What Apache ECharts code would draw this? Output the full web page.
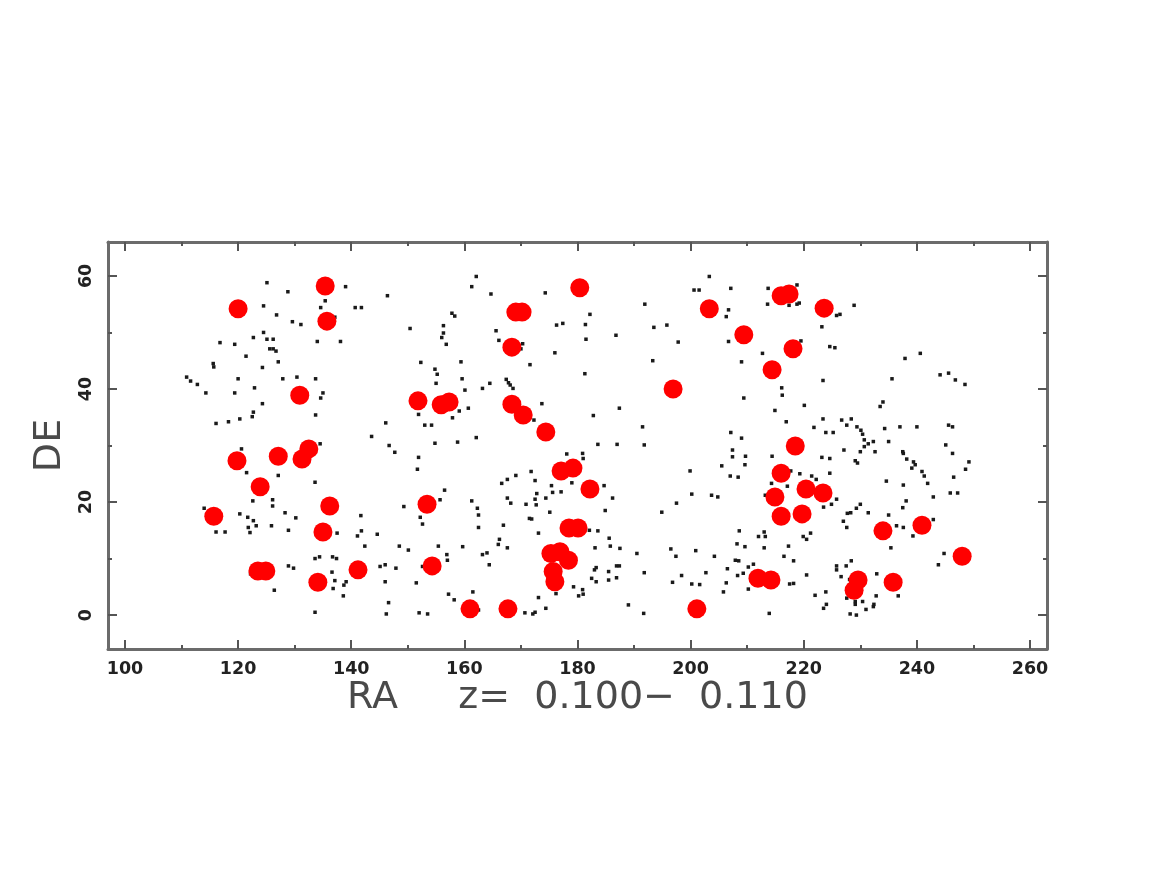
<!DOCTYPE html>
<html><head><meta charset="utf-8">
<script src="https://cdn.jsdelivr.net/npm/echarts@6/dist/echarts.min.js"></script>
<style>html,body{margin:0;padding:0;background:#fff}#c{width:1155px;height:892px}</style>
</head><body><div id="c"></div>
<script>
const xMajorTicks = [100,120,140,160,180,200,220,240,260];
const xMinorTicks = [110,130,150,170,190,210,230,250];
const yMajorTicks = [0,20,40,60];
const yMinorTicks = [10,30,50];
const xTitle = 'RA     z=  0.100\u2212  0.110';
const yTitle = 'DE';

// clusters (red) : [RA, DE]
const clusters = [[120.0,54.2],[135.4,58.2],[135.7,52.0],[130.9,38.9],[119.8,27.3],[127.1,28.1],[131.3,27.6],[132.5,29.4],[123.9,22.7],[115.7,17.5],[136.2,19.3],[135.0,14.7],[123.5,7.8],[124.9,7.8],[134.1,5.8],[141.2,8.0],[151.8,37.9],[153.4,19.6],[154.3,8.7],[155.9,37.2],[157.3,37.7],[161.0,1.1],[167.7,1.1],[169.1,53.6],[170.2,53.6],[168.4,47.4],[168.4,37.3],[170.4,35.4],[174.4,32.4],[180.4,57.9],[177.1,25.5],[179.2,26.0],[182.2,22.3],[178.5,15.4],[180.1,15.4],[175.3,10.9],[176.9,11.2],[178.4,9.7],[175.7,7.7],[176.0,5.9],[196.9,40.0],[201.1,1.1],[203.3,54.2],[209.4,49.6],[214.4,43.4],[216.0,56.5],[217.4,56.8],[218.1,47.1],[223.6,54.3],[218.5,29.9],[216.0,25.1],[214.9,20.9],[220.4,22.3],[223.4,21.6],[216.0,17.5],[219.7,17.9],[211.9,6.5],[214.2,6.2],[228.9,4.4],[229.6,6.2],[235.8,5.8],[234.0,14.9],[240.9,15.9],[248.0,10.4]];

// galaxies (black) : [RA, DE]
const galaxiesNW = [[125.1,58.8],[128.8,57.2],[139.0,58.1],[146.4,56.5],[124.5,54.7],[135.4,55.6],[134.6,54.4],[140.7,54.4],[141.8,54.4],[126.8,53.1],[129.6,51.9],[131.1,51.4],[137.1,52.7],[150.4,50.7],[122.7,49.1],[116.8,48.2],[119.4,47.9],[124.5,50.0],[125.1,48.8],[126.2,48.8],[134.0,48.4],[138.1,48.4],[125.6,47.1],[126.2,47.1],[126.7,46.7],[121.4,45.8],[115.6,44.5],[115.7,43.9],[124.3,43.8],[127.1,44.8],[152.3,44.7],[110.9,42.1],[111.6,41.4],[112.8,40.8],[114.3,39.3],[119.4,39.3],[120.0,41.8],[122.9,40.2],[127.9,41.8],[130.4,42.1],[133.7,41.8],[135.0,39.3],[134.6,38.4],[124.3,37.4],[122.7,35.9],[122.5,35.1],[120.3,34.7],[118.3,34.2],[116.1,33.9],[133.7,35.4],[146.1,34.0],[151.9,35.5],[153.0,33.6],[143.6,31.6],[146.7,30.0]];
const galaxiesSW = [[120.6,29.4],[134.5,30.3],[147.7,28.8],[151.9,27.9],[151.7,25.8],[121.5,25.2],[127.1,24.7],[133.6,23.5],[122.6,20.2],[126.1,20.4],[126.1,19.3],[114.0,18.9],[120.3,17.9],[121.7,17.3],[122.7,16.7],[123.2,15.8],[121.8,15.5],[122.1,14.6],[125.9,15.8],[128.3,18.1],[128.9,15.0],[130.2,17.2],[116.1,14.7],[117.7,14.7],[137.5,14.5],[141.7,17.6],[141.8,14.9],[141.1,14.0],[142.4,12.2],[144.6,14.3],[148.5,12.2],[150.1,11.5],[149.3,19.2],[152.2,17.3],[152.6,16.1],[133.6,10.0],[134.4,10.3],[136.7,10.3],[137.4,10.0],[128.9,8.7],[129.8,8.3],[122.2,7.3],[126.4,4.4],[136.6,7.6],[137.1,6.1],[136.8,4.7],[139.1,5.9],[138.7,5.3],[138.6,3.4],[145.1,8.6],[146.0,8.9],[147.9,8.3],[146.0,5.9],[151.5,5.7],[146.6,2.2],[133.6,0.5],[146.2,0.2],[152.0,0.4],[153.5,0.2],[152.6,8.6]];
const galaxiesCN = [[162.1,59.9],[161.3,58.1],[164.7,56.8],[174.3,57.0],[157.8,53.4],[158.3,52.9],[156.3,51.2],[156.3,49.9],[156.0,49.1],[156.8,47.9],[165.6,50.3],[166.1,48.6],[170.3,48.0],[170.0,47.1],[176.3,51.3],[177.4,51.6],[181.4,51.4],[182.2,53.2],[181.5,48.8],[176.0,46.4],[171.6,44.3],[181.3,42.7],[186.8,49.5],[191.9,55.0],[193.5,50.9],[195.8,51.3],[197.8,48.3],[193.3,45.0],[203.3,59.9],[200.6,57.5],[201.5,57.5],[207.1,57.8],[206.7,54.0],[206.3,52.8],[206.7,48.4],[209.0,44.8],[159.4,44.8],[154.8,43.5],[155.2,42.6],[155.0,41.0],[159.6,41.8],[160.1,39.8],[163.2,40.1],[164.5,41.0],[167.4,41.7],[167.8,41.1],[168.1,40.7],[168.6,40.1],[159.1,36.1],[157.9,34.9],[160.7,36.6],[173.7,37.4],[172.3,34.5],[154.2,33.6],[182.8,35.3],[187.4,36.6],[191.5,33.3],[207.1,32.3],[209.0,31.3],[209.4,38.4],[162.1,31.4],[158.8,30.6],[154.8,30.4],[183.6,30.2],[187.0,30.2],[191.8,30.1]];
const galaxiesCS = [[178.1,28.5],[180.9,28.6],[181.0,27.7],[169.1,24.7],[171.8,25.4],[172.5,23.8],[167.6,24.0],[166.6,23.3],[179.0,23.4],[175.4,22.9],[175.6,21.7],[177.1,21.8],[184.7,22.9],[156.5,22.1],[155.7,20.4],[161.3,20.2],[162.3,18.9],[162.5,17.7],[162.5,15.5],[167.6,20.7],[170.9,19.6],[172.5,20.5],[172.7,19.5],[172.8,21.5],[168.2,19.8],[174.4,20.7],[175.1,18.2],[171.5,17.1],[171.9,17.0],[166.9,15.9],[173.1,14.5],[184.9,18.5],[186.2,20.7],[182.1,15.0],[183.6,14.9],[166.2,13.4],[166.0,12.5],[167.6,11.9],[159.7,12.1],[155.4,12.2],[156.9,10.7],[157.0,9.7],[163.2,10.7],[164.0,11.0],[164.4,8.9],[183.1,11.9],[185.6,13.6],[185.8,12.2],[187.5,11.8],[190.5,10.9],[186.9,8.7],[187.4,8.7],[183.0,8.0],[183.3,8.4],[185.5,7.7],[186.9,6.6],[182.5,6.5],[183.3,5.9],[185.5,6.2],[176.2,3.8],[179.3,5.0],[180.9,4.5],[181.0,3.7],[180.2,3.4],[174.4,1.2],[173.1,3.1],[191.8,7.5],[189.0,1.8],[191.7,0.3],[157.2,3.7],[158.2,2.7],[161.5,4.1],[162.5,0.9],[170.7,0.4],[172.1,0.2],[172.5,0.5],[194.9,18.2],[197.5,19.8],[199.9,25.5],[200.2,21.4],[203.7,21.2],[204.8,20.9],[205.5,26.4],[207.4,29.2],[207.4,28.0],[209.7,28.1],[209.6,26.6],[207.0,24.6],[208.4,24.4],[208.6,14.9],[208.2,12.6],[209.6,12.1],[210.2,8.5],[207.9,9.7],[208.5,9.6],[206.5,8.2],[209.3,7.4],[208.3,7.0],[210.2,4.6],[206.3,5.7],[205.8,4.1],[202.7,7.5],[204.2,10.4],[196.5,11.7],[197.4,10.4],[200.9,11.4],[198.4,7.0],[196.8,5.8],[200.2,5.5],[201.6,5.4]];
const galaxiesNE = [[213.7,57.8],[218.8,58.4],[213.6,55.0],[217.4,54.8],[218.8,55.0],[219.2,55.2],[225.8,53.0],[226.4,53.2],[228.9,54.8],[223.2,51.0],[219.5,48.5],[224.6,47.5],[225.5,47.3],[212.7,46.3],[237.9,45.4],[240.6,46.3],[235.6,41.8],[223.4,41.5],[216.1,40.2],[216.2,38.9],[214.9,36.2],[216.9,34.2],[220.1,37.1],[244.1,42.5],[245.6,42.8],[246.8,41.6],[248.5,40.8],[234.0,37.7],[233.5,36.9],[223.4,34.7],[221.8,33.2],[223.9,32.3],[225.2,32.3],[226.7,34.5],[227.6,33.6],[228.4,34.7],[229.4,33.3],[230.1,32.7],[230.4,32.0],[230.7,31.0],[231.4,30.3],[232.3,30.7],[235.0,30.7],[234.3,33.0],[237.0,33.3],[240.0,33.3],[245.6,33.6],[246.3,33.3],[245.1,30.1]];
const galaxiesSE = [[214.4,28.1],[223.2,27.9],[224.6,27.7],[227.1,29.2],[230.0,28.9],[230.7,29.8],[232.6,28.9],[229.1,27.3],[229.5,26.9],[237.5,28.9],[237.6,28.6],[238.2,27.6],[239.4,27.1],[239.7,26.6],[239.1,26.0],[240.9,25.4],[241.3,24.6],[241.9,23.3],[242.9,20.9],[246.3,28.6],[249.2,27.1],[248.6,25.8],[246.5,24.4],[245.9,21.6],[247.2,21.6],[234.6,23.7],[237.6,23.0],[217.7,25.5],[219.3,25.0],[221.4,24.6],[222.2,24.0],[224.6,25.1],[217.1,22.8],[214.3,23.3],[213.2,21.2],[225.8,20.5],[224.9,19.6],[223.5,19.1],[230.0,19.6],[229.3,18.9],[228.3,18.1],[227.7,18.0],[231.4,18.1],[227.0,16.6],[227.6,15.5],[235.0,17.7],[236.4,15.8],[237.6,15.5],[238.1,20.2],[237.5,19.0],[242.9,16.9],[239.3,14.0],[235.4,11.9],[213.0,14.7],[213.2,13.9],[212.0,13.9],[219.9,13.9],[220.5,13.4],[221.2,14.5],[217.3,12.2],[213.0,11.9],[216.5,10.4],[218.2,9.6],[211.1,9.0],[220.5,7.1],[217.5,5.5],[218.2,5.6],[225.8,8.7],[227.5,8.7],[225.8,8.0],[228.4,9.6],[226.6,6.8],[228.1,6.3],[222.0,3.5],[223.9,4.1],[224.0,1.9],[223.5,1.2],[227.6,3.0],[229.1,2.4],[229.1,1.9],[230.4,2.4],[232.8,3.4],[231.0,1.0],[232.3,1.5],[232.4,1.9],[228.2,0.2],[229.3,0.0],[213.9,0.3],[232.9,7.3],[236.7,3.4],[244.8,10.9],[243.8,8.9]];

const galaxies = [].concat(galaxiesNW, galaxiesSW, galaxiesCN, galaxiesCS, galaxiesNE, galaxiesSE);

const TICKFONT = "'DejaVu Sans', sans-serif";
const TITLEFONT = "'DejaVu Sans', sans-serif";
const lineStyle = {color:'#6b6b6b', width:3};
const tickStyle = {color:'#555', width:2};

function xAx(pos, values, len, withLine, withLabel) {
  const a = {
    type:'value', min:97, max:263, position:pos,
    axisLine:{show:withLine, onZero:false, lineStyle:lineStyle},
    axisTick:{show:true, inside:true, length:len, customValues:values, lineStyle:tickStyle},
    axisLabel:{show:withLabel, customValues:values, fontSize:17.5, fontWeight:'bold', color:'#222', fontFamily:TICKFONT, margin:11},
    splitLine:{show:false}
  };
  if (withLabel) {
    a.name = xTitle; a.nameLocation = 'middle'; a.nameGap = 30;
    a.nameTextStyle = {fontSize:38, color:'#4a4a4a', fontFamily:TITLEFONT};
  }
  return a;
}
function yAx(pos, values, len, withLine, withLabel) {
  const a = {
    type:'value', min:-6, max:66, position:pos,
    axisLine:{show:withLine, onZero:false, lineStyle:lineStyle},
    axisTick:{show:true, inside:true, length:len, customValues:values, lineStyle:tickStyle},
    axisLabel:{show:withLabel, customValues:values, fontSize:17.5, fontWeight:'bold', color:'#222', fontFamily:TICKFONT, rotate:90, margin:13},
    splitLine:{show:false}
  };
  if (withLabel) {
    a.name = yTitle; a.nameLocation = 'middle'; a.nameGap = 30; a.nameRotate = 90;
    a.nameTextStyle = {fontSize:38, color:'#4a4a4a', fontFamily:TITLEFONT};
  }
  return a;
}

const chart = echarts.init(document.getElementById('c'), null, {renderer:'canvas'});
chart.setOption({
  animation:false,
  backgroundColor:'#fff',
  grid:{left:108, right:108, top:242, bottom:243, containLabel:false},
  xAxis:[
    xAx('bottom', xMajorTicks, 9, true, true),
    xAx('bottom', xMinorTicks, 4, false, false),
    xAx('top', xMajorTicks, 9, true, false),
    xAx('top', xMinorTicks, 4, false, false)
  ],
  yAxis:[
    yAx('left', yMajorTicks, 9, true, true),
    yAx('left', yMinorTicks, 4, false, false),
    yAx('right', yMajorTicks, 9, true, false),
    yAx('right', yMinorTicks, 4, false, false)
  ],
  series:[
    {type:'scatter', xAxisIndex:0, yAxisIndex:0, data:galaxies, symbol:'rect', symbolSize:3.5,
     itemStyle:{color:'#1a1a1a', opacity:1}, z:2},
    {type:'scatter', xAxisIndex:0, yAxisIndex:0, data:clusters, symbol:'circle', symbolSize:19,
     itemStyle:{color:'#ff0000', opacity:1}, z:3}
  ]
});
</script>
</body></html>
